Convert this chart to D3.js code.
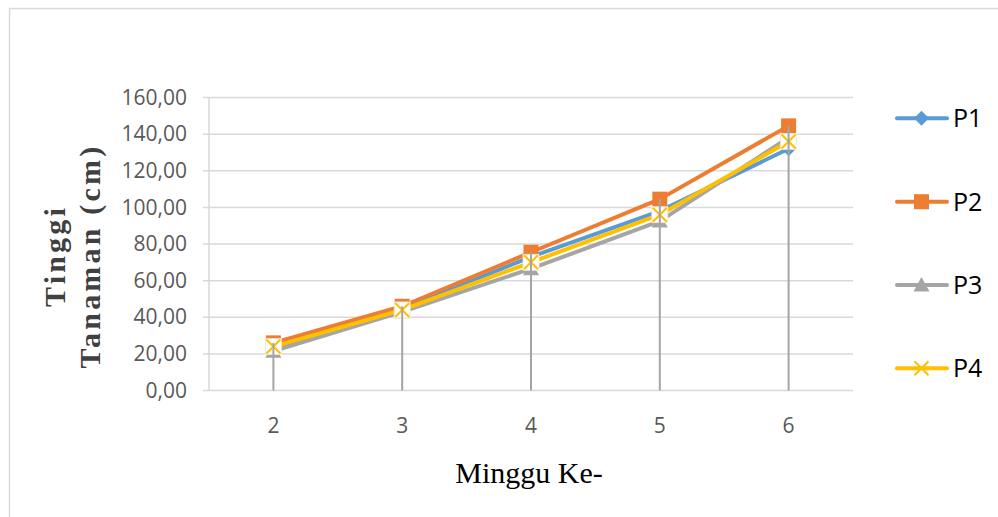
<!DOCTYPE html>
<html>
<head>
<meta charset="utf-8">
<script src="https://cdn.jsdelivr.net/npm/d3@7"></script>
<style>
  html, body { margin: 0; padding: 0; background: #fff; }
  svg { display: block; }
</style>
</head>
<body>
<svg id="chart" width="998" height="517"></svg>
<script>
// Plant height (cm) per week for four treatments
const weeks = ["2", "3", "4", "5", "6"];
const p1 = [23.5, 44.5, 73, 98, 132];
const p2 = [26, 46, 75.5, 104.5, 144.5];
const p3 = [21.5, 43, 66.5, 92.5, 138];
const p4 = [24, 44, 70, 96, 136];
const yTicks = [0, 20, 40, 60, 80, 100, 120, 140, 160];

const colors = { P1: "#5B9BD5", P2: "#ED7D31", P3: "#A5A5A5", P4: "#FFC000" };
const series = [
  { name: "P1", values: p1, marker: "diamond" },
  { name: "P2", values: p2, marker: "square" },
  { name: "P3", values: p3, marker: "triangle" },
  { name: "P4", values: p4, marker: "x" }
];

const sans = "'Open Sans', 'Liberation Sans', sans-serif";
const serif = "'Liberation Serif', 'Times New Roman', serif";

const svg = d3.select("#chart");

// chart frame
svg.append("rect")
  .attr("x", 9.5).attr("y", 8.5).attr("width", 1000).attr("height", 520)
  .attr("fill", "none").attr("stroke", "#d9d9d9").attr("stroke-width", 1.5);

const plot = { left: 209, right: 853, top: 97.5, bottom: 390.5 };

const x = d3.scaleBand().domain(weeks).range([plot.left, plot.right]);
const y = d3.scaleLinear().domain([0, 160]).range([plot.bottom, plot.top]);
const cx = d => x(d) + x.bandwidth() / 2;

// horizontal gridlines (with small tick stubs left of the axis)
svg.append("g")
  .selectAll("line").data(yTicks).join("line")
  .attr("x1", plot.left - 6).attr("x2", plot.right)
  .attr("y1", d => y(d)).attr("y2", d => y(d))
  .attr("stroke", "#d9d9d9").attr("stroke-width", 1.5);

// left axis line
svg.append("line")
  .attr("x1", plot.left).attr("x2", plot.left)
  .attr("y1", plot.top).attr("y2", plot.bottom)
  .attr("stroke", "#d9d9d9").attr("stroke-width", 1.5);

// y axis tick labels
const yAxis = d3.axisLeft(y).tickValues(yTicks)
  .tickFormat(d => d3.format(".2f")(d).replace(".", ","))
  .tickSize(0).tickPadding(22);
const gy = svg.append("g").attr("transform", `translate(${plot.left},0)`).call(yAxis);
gy.select(".domain").remove();
gy.selectAll("text")
  .attr("font-family", sans).attr("font-size", 21).attr("fill", "#595959");

// x axis tick labels
const xAxis = d3.axisBottom(x).tickSize(0).tickPadding(28);
const gx = svg.append("g").attr("transform", `translate(0,${plot.bottom})`).call(xAxis);
gx.select(".domain").remove();
gx.selectAll("text")
  .attr("font-family", sans).attr("font-size", 21).attr("fill", "#595959");

function drawMarker(g, type, color) {
  if (type === "diamond") {
    g.append("path").attr("d", "M0,-7.5L7.5,0L0,7.5L-7.5,0Z").attr("fill", color);
  } else if (type === "square") {
    g.append("rect").attr("x", -7.5).attr("y", -7.5).attr("width", 15).attr("height", 15).attr("fill", color);
  } else if (type === "triangle") {
    g.append("path").attr("d", "M0,-8L8,6.5L-8,6.5Z").attr("fill", color);
  } else if (type === "x") {
    g.append("rect").attr("x", -8).attr("y", -8).attr("width", 16).attr("height", 16)
      .attr("fill", "#fff").attr("stroke", "#f6e6cf").attr("stroke-width", 0.8);
    g.append("path").attr("d", "M-7,-7L7,7M7,-7L-7,7")
      .attr("stroke", color).attr("stroke-width", 2).attr("fill", "none");
  }
}

function drawLegendMarker(g, type, color) {
  if (type === "x") {
    g.append("path").attr("d", "M-7,-7L7,7M7,-7L-7,7")
      .attr("stroke", color).attr("stroke-width", 2).attr("fill", "none");
  } else {
    drawMarker(g, type, color);
  }
}

// each series: its line, then its markers
const line = d3.line().x((v, i) => cx(weeks[i])).y(v => y(v));
series.forEach(s => {
  const g = svg.append("g");
  g.append("path")
    .attr("d", line(s.values))
    .attr("fill", "none")
    .attr("stroke", colors[s.name])
    .attr("stroke-width", 4)
    .attr("stroke-linejoin", "round");
  s.values.forEach((v, i) => {
    const m = g.append("g").attr("transform", `translate(${cx(weeks[i])},${y(v)})`);
    drawMarker(m, s.marker, colors[s.name]);
  });
});

// drop lines from the highest value of each week down to the axis
const maxes = weeks.map((w, i) => d3.max(series, s => s.values[i]));
svg.append("g")
  .selectAll("line").data(weeks).join("line")
  .attr("x1", d => cx(d)).attr("x2", d => cx(d))
  .attr("y1", (d, i) => y(maxes[i])).attr("y2", plot.bottom)
  .attr("stroke", "#A5A5A5").attr("stroke-width", 2);

// legend
const legendY = [118.3, 201.7, 285, 368.3];
const legend = svg.append("g");
series.forEach((s, i) => {
  const g = legend.append("g").attr("transform", `translate(0,${legendY[i]})`);
  g.append("line").attr("x1", 897).attr("x2", 947).attr("y1", 0).attr("y2", 0)
    .attr("stroke", colors[s.name]).attr("stroke-width", 4).attr("stroke-linecap", "round");
  const m = g.append("g").attr("transform", "translate(921.5,0)");
  drawLegendMarker(m, s.marker, colors[s.name]);
  g.append("text").attr("x", 953).attr("y", 9)
    .attr("font-family", sans).attr("font-size", 25).attr("fill", "#000").text(s.name);
});

// axis titles
svg.append("text")
  .attr("x", 529).attr("y", 483)
  .attr("text-anchor", "middle")
  .attr("font-family", serif)
  .attr("font-size", 30).attr("fill", "#000")
  .text("Minggu Ke-");

const yTitle = svg.append("text")
  .attr("transform", "translate(0,256) rotate(-90)")
  .attr("text-anchor", "middle")
  .attr("font-family", serif)
  .attr("font-size", 30).attr("font-weight", "bold").attr("fill", "#404040")
  .attr("letter-spacing", 3.2);
yTitle.append("tspan").attr("x", 0).attr("y", 65).text("Tinggi");
yTitle.append("tspan").attr("x", 0).attr("y", 100).text("Tanaman (cm)");
</script>
</body>
</html>
